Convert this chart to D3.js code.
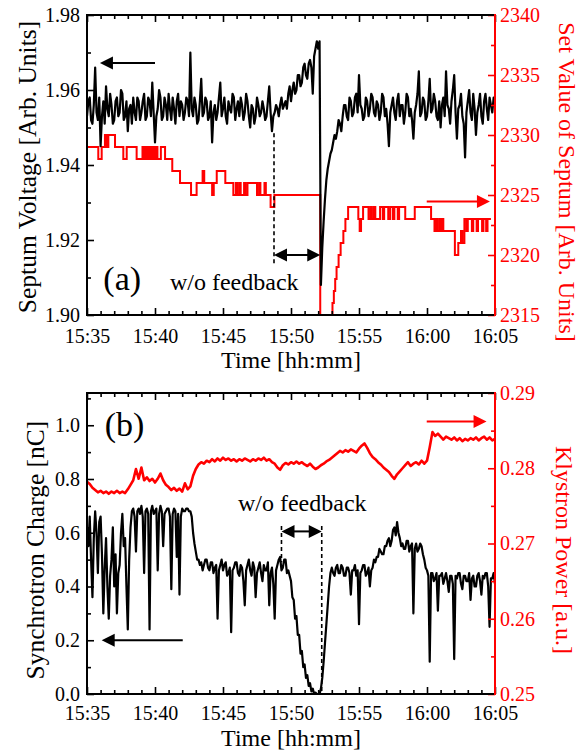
<!DOCTYPE html>
<html>
<head>
<meta charset="utf-8">
<script src="https://cdn.jsdelivr.net/npm/d3@7"></script>
<style>
  body { margin: 0; background: #fff; }
  svg { display: block; font-family: "Liberation Serif", "Times New Roman", serif; }
</style>
</head>
<body>
<div id="chart"></div>
<script>
// ---- data: time in minutes after 15:35 ----
const fineStep = 0.1;    // sampling of the two black traces
const coarseStep = 0.2;  // sampling of the klystron power trace
const timeTickMinutes = [0, 5, 10, 15, 20, 25, 30];
const timeTickLabels = ['15:35', '15:40', '15:45', '15:50', '15:55', '16:00', '16:05'];

// (a) septum voltage [arb. units], left axis, one row per minute
const septumVoltage = [
  1.953, 1.957, 1.958, 1.952, 1.951, 1.956, 1.966, 1.954, 1.952, 1.958,
  1.945, 1.953, 1.957, 1.951, 1.961, 1.955, 1.953, 1.959, 1.956, 1.951,
  1.952, 1.957, 1.958, 1.953, 1.954, 1.960, 1.959, 1.952, 1.953, 1.957,
  1.949, 1.955, 1.956, 1.951, 1.958, 1.954, 1.952, 1.958, 1.957, 1.952,
  1.954, 1.957, 1.959, 1.952, 1.953, 1.958, 1.957, 1.953, 1.962, 1.954,
  1.946, 1.953, 1.955, 1.960, 1.958, 1.952, 1.953, 1.958, 1.956, 1.952,
  1.959, 1.955, 1.952, 1.958, 1.955, 1.951, 1.957, 1.959, 1.953, 1.957,
  1.956, 1.952, 1.954, 1.958, 1.957, 1.953, 1.970, 1.955, 1.953, 1.958,
  1.956, 1.951, 1.952, 1.957, 1.963, 1.953, 1.954, 1.958, 1.957, 1.952,
  1.953, 1.957, 1.946, 1.954, 1.956, 1.952, 1.954, 1.958, 1.962, 1.953,
  1.955, 1.958, 1.953, 1.951, 1.957, 1.955, 1.954, 1.959, 1.958, 1.952,
  1.955, 1.957, 1.953, 1.958, 1.956, 1.952, 1.954, 1.959, 1.957, 1.953,
  1.950, 1.956, 1.955, 1.951, 1.953, 1.958, 1.956, 1.953, 1.954, 1.957,
  1.955, 1.952, 1.953, 1.957, 1.961, 1.954, 1.949, 1.953, 1.954, 1.956,
  1.955, 1.953, 1.956, 1.958, 1.955, 1.956, 1.957, 1.955, 1.959, 1.961,
  1.957, 1.960, 1.962, 1.959, 1.960, 1.964, 1.964, 1.961, 1.962, 1.966,
  1.967, 1.964, 1.963, 1.967, 1.968, 1.966, 1.959, 1.969, 1.971, 1.973,
  1.971, 1.973, 1.908, 1.918, 1.925, 1.931, 1.936, 1.939, 1.941, 1.943,
  1.944, 1.946, 1.948, 1.947, 1.949, 1.952, 1.951, 1.949, 1.953, 1.956,
  1.956, 1.953, 1.952, 1.958, 1.957, 1.953, 1.954, 1.958, 1.959, 1.954,
  1.964, 1.956, 1.955, 1.952, 1.953, 1.958, 1.957, 1.953, 1.955, 1.959,
  1.958, 1.954, 1.953, 1.957, 1.956, 1.952, 1.954, 1.959, 1.958, 1.953,
  1.955, 1.951, 1.945, 1.954, 1.956, 1.958, 1.954, 1.952, 1.957, 1.959,
  1.953, 1.956, 1.956, 1.951, 1.954, 1.959, 1.958, 1.953, 1.955, 1.952,
  1.947, 1.954, 1.956, 1.959, 1.965, 1.953, 1.954, 1.958, 1.957, 1.952,
  1.953, 1.957, 1.963, 1.954, 1.955, 1.959, 1.957, 1.953, 1.952, 1.957,
  1.950, 1.956, 1.958, 1.953, 1.965, 1.956, 1.955, 1.951, 1.957, 1.960,
  1.964, 1.954, 1.947, 1.955, 1.956, 1.959, 1.953, 1.951, 1.942, 1.954,
  1.957, 1.960, 1.954, 1.952, 1.959, 1.955, 1.948, 1.954, 1.956, 1.959,
  1.953, 1.951, 1.957, 1.959, 1.955, 1.952, 1.958, 1.956, 1.954, 1.958,
  1.957
];

// (a) set value of septum, right axis: [minute, value] at each step change
const septumSetValue = [
  [0, 2329], [0.83, 2328], [1.08, 2329], [1.32, 2330], [1.45, 2329], [1.57, 2330],
  [2.06, 2329], [2.67, 2328], [2.92, 2329], [3.65, 2328], [4.08, 2329], [4.2, 2328],
  [4.33, 2329], [4.45, 2328], [4.57, 2329], [4.69, 2328], [4.82, 2329], [4.94, 2328],
  [5.06, 2329], [5.18, 2328], [5.43, 2329], [5.74, 2328], [6.27, 2327], [6.84, 2326],
  [7.65, 2325], [8.06, 2326], [8.5, 2327], [8.62, 2326], [9.2, 2325], [9.32, 2326],
  [9.54, 2327], [10.17, 2326], [10.76, 2325], [10.95, 2326], [11.05, 2325], [11.2, 2326],
  [11.3, 2325], [11.55, 2326], [11.65, 2325], [11.8, 2326], [12.5, 2325], [12.65, 2326],
  [12.75, 2325], [13.05, 2326], [13.15, 2325], [13.5, 2324], [13.78, 2325], [17.15, 2300],
  [17.95, 2315], [18.05, 2316], [18.15, 2317], [18.25, 2318], [18.35, 2319], [18.5, 2320],
  [18.65, 2321], [18.85, 2322], [19.0, 2323], [19.2, 2324], [19.95, 2323], [20.05, 2322],
  [20.15, 2323], [20.3, 2324], [20.7, 2323], [20.85, 2324], [20.95, 2323], [21.1, 2324],
  [21.2, 2323], [21.55, 2324], [21.75, 2323], [21.85, 2324], [22.15, 2323], [22.3, 2324],
  [22.5, 2323], [22.6, 2324], [22.85, 2323], [22.95, 2324], [23.4, 2323], [24.1, 2324],
  [25.3, 2323], [25.55, 2322], [25.65, 2323], [25.75, 2322], [25.9, 2323], [26.0, 2322],
  [26.1, 2323], [26.2, 2322], [27.05, 2320], [27.3, 2321], [27.5, 2322], [27.6, 2321],
  [27.75, 2323], [27.9, 2322], [28.0, 2323], [28.3, 2322], [28.4, 2323], [28.65, 2322],
  [28.75, 2323], [29.05, 2322], [29.15, 2323], [29.35, 2322], [29.45, 2323], [29.7, 2323]
];

// (b) synchrotron charge [nC], left axis, one row per minute
const synchrotronCharge = [
  0.62, 0.55, 0.66, 0.50, 0.36, 0.58, 0.68, 0.60, 0.45, 0.64,
  0.66, 0.52, 0.30, 0.47, 0.58, 0.40, 0.28, 0.44, 0.50, 0.62,
  0.40, 0.52, 0.30, 0.45, 0.48, 0.60, 0.67, 0.55, 0.58, 0.40,
  0.24, 0.50, 0.62, 0.68, 0.69, 0.66, 0.53, 0.68, 0.69, 0.67,
  0.70, 0.66, 0.45, 0.68, 0.69, 0.67, 0.24, 0.68, 0.70, 0.67,
  0.68, 0.69, 0.46, 0.67, 0.70, 0.68, 0.55, 0.67, 0.68, 0.69,
  0.69, 0.66, 0.39, 0.67, 0.69, 0.68, 0.51, 0.67, 0.37, 0.66,
  0.69, 0.68, 0.68, 0.69, 0.69, 0.68, 0.68, 0.66, 0.60, 0.56,
  0.53, 0.50, 0.50, 0.48, 0.49, 0.46, 0.48, 0.50, 0.50, 0.47,
  0.46, 0.49, 0.49, 0.45, 0.47, 0.48, 0.28, 0.46, 0.48, 0.50,
  0.46, 0.48, 0.49, 0.44, 0.45, 0.47, 0.23, 0.46, 0.47, 0.49,
  0.49, 0.45, 0.44, 0.48, 0.47, 0.42, 0.33, 0.46, 0.48, 0.50,
  0.46, 0.44, 0.49, 0.47, 0.36, 0.45, 0.47, 0.49, 0.45, 0.42,
  0.48, 0.46, 0.46, 0.49, 0.33, 0.45, 0.47, 0.41, 0.28, 0.46,
  0.48, 0.50, 0.51, 0.46, 0.47, 0.50, 0.50, 0.45, 0.46, 0.44,
  0.42, 0.36, 0.35, 0.28, 0.29, 0.22, 0.22, 0.15, 0.16, 0.10,
  0.11, 0.06, 0.07, 0.03, 0.04, 0.01, 0.02, 0.0, 0.005, 0.0,
  0.0, 0.0, 0.02, 0.06, 0.12, 0.19, 0.26, 0.33, 0.40, 0.45,
  0.47, 0.45, 0.44, 0.47, 0.48, 0.45, 0.45, 0.48, 0.47, 0.44,
  0.44, 0.47, 0.47, 0.45, 0.37, 0.46, 0.46, 0.48, 0.44, 0.46,
  0.26, 0.45, 0.46, 0.48, 0.48, 0.44, 0.45, 0.47, 0.40, 0.46,
  0.47, 0.50, 0.49, 0.51, 0.51, 0.54, 0.53, 0.52, 0.52, 0.55,
  0.55, 0.57, 0.58, 0.55, 0.57, 0.61, 0.62, 0.59, 0.64, 0.60,
  0.58, 0.55, 0.56, 0.54, 0.54, 0.57, 0.57, 0.53, 0.55, 0.56,
  0.30, 0.54, 0.56, 0.53, 0.54, 0.56, 0.55, 0.52, 0.50, 0.47,
  0.46, 0.44, 0.12, 0.45, 0.45, 0.42, 0.43, 0.45, 0.31, 0.44,
  0.44, 0.45, 0.41, 0.43, 0.45, 0.42, 0.38, 0.44, 0.44, 0.41,
  0.13, 0.44, 0.43, 0.45, 0.45, 0.41, 0.39, 0.44, 0.44, 0.42,
  0.42, 0.45, 0.35, 0.43, 0.44, 0.40, 0.40, 0.44, 0.45, 0.42,
  0.37, 0.44, 0.43, 0.45, 0.45, 0.40, 0.25, 0.43, 0.43, 0.45,
  0.41
];

// (b) klystron power [a.u.], right axis, two minutes per row
const klystronPower = [
  0.2782, 0.2779, 0.2774, 0.2771, 0.2768, 0.2770, 0.2767, 0.2769, 0.2766, 0.2769,
  0.2767, 0.2770, 0.2767, 0.2769, 0.2767, 0.2772, 0.2778, 0.2784, 0.2799, 0.2786,
  0.2801, 0.2784, 0.2788, 0.2783, 0.2786, 0.2781, 0.2786, 0.2793, 0.2784, 0.2778,
  0.2775, 0.2771, 0.2774, 0.2770, 0.2773, 0.2769, 0.2780, 0.2772, 0.2776, 0.2790,
  0.2799, 0.2805, 0.2808, 0.2806, 0.2810, 0.2808, 0.2812, 0.2809, 0.2813, 0.2810,
  0.2814, 0.2811, 0.2813, 0.2810, 0.2812, 0.2809, 0.2812, 0.2810, 0.2813, 0.2811,
  0.2809, 0.2812, 0.2810, 0.2813, 0.2811, 0.2814, 0.2810, 0.2812, 0.2808, 0.2806,
  0.2801, 0.2798, 0.2804, 0.2807, 0.2805, 0.2808, 0.2806, 0.2809, 0.2806, 0.2808,
  0.2805, 0.2803, 0.2806, 0.2802, 0.2799, 0.2801, 0.2804, 0.2806, 0.2809, 0.2811,
  0.2814, 0.2817, 0.2820, 0.2823, 0.2821, 0.2824, 0.2822, 0.2825, 0.2823, 0.2821,
  0.2826, 0.2830, 0.2833, 0.2827, 0.2820, 0.2815, 0.2812, 0.2808, 0.2805, 0.2801,
  0.2798, 0.2795, 0.2790, 0.2786, 0.2792, 0.2796, 0.2800, 0.2804, 0.2808, 0.2803,
  0.2806, 0.2808, 0.2805, 0.2810, 0.2806, 0.2810, 0.2828, 0.2848, 0.2843, 0.2846,
  0.2842, 0.2838, 0.2842, 0.2840, 0.2838, 0.2841, 0.2837, 0.2840, 0.2836, 0.2839,
  0.2837, 0.2840, 0.2838, 0.2841, 0.2837, 0.2840, 0.2842, 0.2838, 0.2841, 0.2837,
  0.2839
];

const voltageTicks = [1.90, 1.92, 1.94, 1.96, 1.98];
const setValueTicks = [2315, 2320, 2325, 2330, 2335, 2340];
const chargeTicks = [0.0, 0.2, 0.4, 0.6, 0.8, 1.0];
const powerTicks = [0.25, 0.26, 0.27, 0.28, 0.29];

// annotation anchors, in data units
const noFeedbackA = { start: 13.75, end: 17.15, arrowAt: 1.916, dashTop: 1.9485, dashBottom: 1.9135 };
const noFeedbackB = { start: 14.3, end: 17.26, arrowAt: 0.605, dashTop: 0.625, leftBottom: 0.49, rightBottom: 0.0 };

// ---- layout ----
const W = 580, H = 751;
const plotLeft = 87, plotWidth = 408;
const RED = '#ff0000';

const svg = d3.select('#chart').append('svg').attr('width', W).attr('height', H);

function makePanel(top, height, leftDomain, rightDomain) {
  const g = svg.append('g').attr('transform', `translate(${plotLeft},${top})`);
  const x = d3.scaleLinear().domain([0, 30]).range([0, plotWidth]);
  const yL = d3.scaleLinear().domain(leftDomain).range([height, 0]);
  const yR = d3.scaleLinear().domain(rightDomain).range([height, 0]);
  const id = 'clip' + top;
  g.append('clipPath').attr('id', id).append('rect')
    .attr('width', plotWidth).attr('height', height);
  return { g, x, yL, yR, height, clip: `url(#${id})` };
}

function styleAxis(sel, color) {
  sel.select('.domain').remove();
  sel.selectAll('.tick line').attr('stroke', color).attr('stroke-width', 1.6);
  sel.selectAll('.tick text').attr('fill', color).style('font-size', '20px')
    .style('font-family', '"Liberation Serif", "Times New Roman", serif');
}

function minorValues(domain, step, majors) {
  return d3.range(domain[0], domain[1] + step / 2, step)
    .filter(v => v <= domain[1] + 1e-9)
    .filter(v => !majors.some(m => Math.abs(m - v) < step / 10));
}

function drawAxes(p, cfg) {
  const { g, x, yL, yR, height } = p;
  const xMinor = minorValues([0, 30], 1, timeTickMinutes);

  // bottom (with labels) and top, ticks pointing inward
  g.append('g').attr('transform', `translate(0,${height})`)
    .call(d3.axisBottom(x).tickValues(timeTickMinutes).tickSize(-7).tickPadding(cfg.xPad)
      .tickFormat((d, i) => timeTickLabels[i]))
    .call(s => styleAxis(s, '#000'));
  g.append('g').attr('transform', `translate(0,${height})`)
    .call(d3.axisBottom(x).tickValues(xMinor).tickSize(-4).tickFormat(''))
    .call(s => styleAxis(s, '#000'));
  g.append('g')
    .call(d3.axisTop(x).tickValues(timeTickMinutes).tickSize(-7).tickFormat(''))
    .call(s => styleAxis(s, '#000'));
  g.append('g')
    .call(d3.axisTop(x).tickValues(xMinor).tickSize(-4).tickFormat(''))
    .call(s => styleAxis(s, '#000'));

  // left axis
  g.append('g')
    .call(d3.axisLeft(yL).tickValues(cfg.leftTicks).tickSize(-7).tickPadding(7)
      .tickFormat(d3.format(cfg.leftFormat)))
    .call(s => styleAxis(s, '#000'));
  g.append('g')
    .call(d3.axisLeft(yL).tickValues(minorValues(yL.domain(), cfg.leftMinor, cfg.leftTicks))
      .tickSize(-4).tickFormat(''))
    .call(s => styleAxis(s, '#000'));

  // right axis in red
  g.append('g').attr('transform', `translate(${plotWidth},0)`)
    .call(d3.axisRight(yR).tickValues(cfg.rightTicks).tickSize(-7).tickPadding(5)
      .tickFormat(d3.format(cfg.rightFormat)))
    .call(s => styleAxis(s, RED));
  g.append('g').attr('transform', `translate(${plotWidth},0)`)
    .call(d3.axisRight(yR).tickValues(minorValues(yR.domain(), cfg.rightMinor, cfg.rightTicks))
      .tickSize(-4).tickFormat(''))
    .call(s => styleAxis(s, RED));

  // frame
  g.append('rect').attr('width', plotWidth).attr('height', height)
    .attr('fill', 'none').attr('stroke', '#000').attr('stroke-width', 2);
  g.append('line').attr('x1', plotWidth).attr('x2', plotWidth)
    .attr('y1', -1).attr('y2', height + 1).attr('stroke', RED).attr('stroke-width', 2);

  // titles
  g.append('text').attr('x', plotWidth / 2).attr('y', height + cfg.xTitleGap)
    .attr('text-anchor', 'middle').style('font-size', '24px').text('Time [hh:mm]');
  g.append('text')
    .attr('transform', `translate(${cfg.leftTitleX},${cfg.leftTitleY}) rotate(-90)`)
    .attr('text-anchor', 'middle').style('font-size', '25.5px').text(cfg.leftTitle);
  g.append('text')
    .attr('transform', `translate(${plotWidth + cfg.rightTitleX},${cfg.rightTitleY}) rotate(90)`)
    .attr('text-anchor', 'middle').attr('fill', RED).style('font-size', '24px').text(cfg.rightTitle);
}

// horizontal arrow with filled heads ('start', 'end' or 'both')
function hArrow(g, x1, x2, y, color, heads) {
  const len = 13, half = 6.5;
  const s = heads === 'start' || heads === 'both';
  const e = heads === 'end' || heads === 'both';
  g.append('line').attr('x1', s ? x1 + len - 1 : x1).attr('x2', e ? x2 - len + 1 : x2)
    .attr('y1', y).attr('y2', y).attr('stroke', color).attr('stroke-width', 2);
  if (s) g.append('path').attr('d', `M${x1},${y}L${x1 + len},${y - half}L${x1 + len},${y + half}Z`).attr('fill', color);
  if (e) g.append('path').attr('d', `M${x2},${y}L${x2 - len},${y - half}L${x2 - len},${y + half}Z`).attr('fill', color);
}

function dashed(g, x, y1, y2) {
  g.append('line').attr('x1', x).attr('x2', x).attr('y1', y1).attr('y2', y2)
    .attr('stroke', '#000').attr('stroke-width', 1.6).attr('stroke-dasharray', '4,3');
}

// ---------- panel (a) ----------
const pa = makePanel(15, 300, [1.90, 1.98], [2315, 2340]);
{
  const { g, x, yL, yR, clip } = pa;
  const series = g.append('g').attr('clip-path', clip);

  series.append('path').datum(septumSetValue)
    .attr('d', d3.line().curve(d3.curveStepAfter).x(d => x(d[0])).y(d => yR(d[1])))
    .attr('fill', 'none').attr('stroke', RED).attr('stroke-width', 2);

  series.append('path').datum(septumVoltage)
    .attr('d', d3.line().x((d, i) => x(i * fineStep)).y(d => yL(d)))
    .attr('fill', 'none').attr('stroke', '#000').attr('stroke-width', 2.2)
    .attr('stroke-linejoin', 'round');

  dashed(g, x(noFeedbackA.start), yL(noFeedbackA.dashTop), yL(noFeedbackA.dashBottom));
  hArrow(g, x(noFeedbackA.start), x(noFeedbackA.end), yL(noFeedbackA.arrowAt), '#000', 'both');
  hArrow(g, x(0.95), x(5.0), yL(1.9672), '#000', 'start');
  hArrow(g, x(24.98), x(29.63), yR(2324.45), RED, 'end');

  g.append('text').attr('x', x(6.1)).attr('y', yL(1.9067)).style('font-size', '24px').text('w/o feedback');
  g.append('text').attr('x', x(1.2)).attr('y', yL(1.9067)).style('font-size', '34px').text('(a)');
}
drawAxes(pa, {
  xPad: 14, xTitleGap: 53,
  leftTicks: voltageTicks, leftMinor: 0.01, leftFormat: '.2f',
  rightTicks: setValueTicks, rightMinor: 2.5, rightFormat: 'd',
  leftTitle: 'Septum Voltage [Arb. Units]', leftTitleX: -51, leftTitleY: 152,
  rightTitle: 'Set Value of Septum [Arb. Units]', rightTitleX: 64, rightTitleY: 167
});

// ---------- panel (b) ----------
const pb = makePanel(393, 301, [0, 1.12], [0.25, 0.29]);
{
  const { g, x, yL, yR, clip } = pb;
  const series = g.append('g').attr('clip-path', clip);

  series.append('path').datum(klystronPower)
    .attr('d', d3.line().x((d, i) => x(i * coarseStep)).y(d => yR(d)))
    .attr('fill', 'none').attr('stroke', RED).attr('stroke-width', 2.6)
    .attr('stroke-linejoin', 'round');

  series.append('path').datum(synchrotronCharge)
    .attr('d', d3.line().x((d, i) => x(i * fineStep)).y(d => yL(d)))
    .attr('fill', 'none').attr('stroke', '#000').attr('stroke-width', 2.2)
    .attr('stroke-linejoin', 'round');

  dashed(g, x(noFeedbackB.start), yL(noFeedbackB.dashTop), yL(noFeedbackB.leftBottom));
  dashed(g, x(noFeedbackB.end), yL(noFeedbackB.dashTop), yL(noFeedbackB.rightBottom));
  hArrow(g, x(noFeedbackB.start), x(noFeedbackB.end), yL(noFeedbackB.arrowAt), '#000', 'both');
  hArrow(g, x(1.08), x(7.04), yL(0.2), '#000', 'start');
  hArrow(g, x(24.98), x(29.38), yR(0.2862), RED, 'end');

  g.append('text').attr('x', x(11.1)).attr('y', yL(0.68)).style('font-size', '24px').text('w/o feedback');
  g.append('text').attr('x', x(1.3)).attr('y', yL(0.959)).style('font-size', '34px').text('(b)');
}
drawAxes(pb, {
  xPad: 12, xTitleGap: 52,
  leftTicks: chargeTicks, leftMinor: 0.1, leftFormat: '.1f',
  rightTicks: powerTicks, rightMinor: 0.005, rightFormat: '.2f',
  leftTitle: 'Synchrotron Charge [nC]', leftTitleX: -43, leftTitleY: 157,
  rightTitle: 'Klystron Power [a.u.]', rightTitleX: 61, rightTitleY: 157
});
</script>
</body>
</html>
